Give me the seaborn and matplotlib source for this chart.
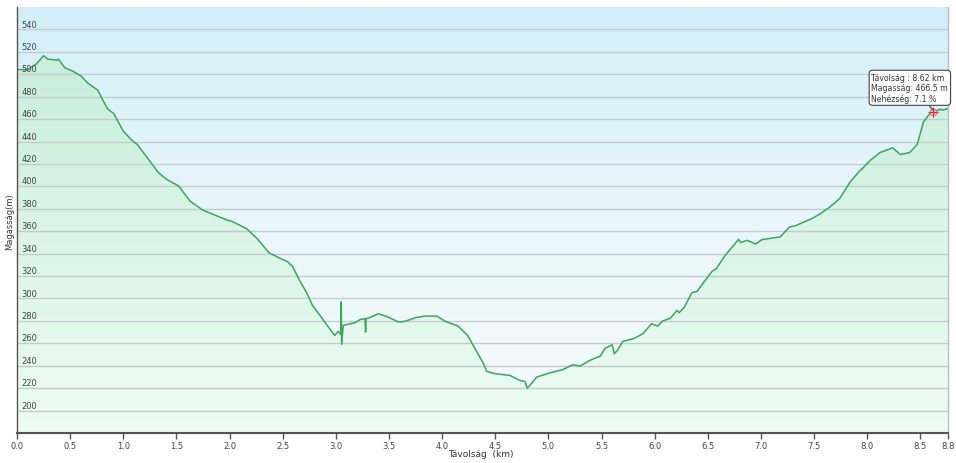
import numpy as np
import pandas as pd
import matplotlib
matplotlib.use("Agg")
import matplotlib.pyplot as plt
import seaborn as sns
from matplotlib.colors import LinearSegmentedColormap

# ---------------- data ----------------
distance_km = [0.00, 0.10, 0.18, 0.25, 0.29, 0.38, 0.39, 0.45, 0.52, 0.60, 0.67, 0.76,
               0.80, 0.85, 0.88, 0.91, 1.00, 1.08, 1.13, 1.22, 1.33, 1.41, 1.52, 1.63,
               1.75, 1.88, 1.98, 2.02, 2.16, 2.26, 2.37, 2.46, 2.54, 2.59, 2.65, 2.73,
               2.78, 2.85, 2.93, 2.99, 3.02, 3.045, 3.05, 3.055, 3.07, 3.18, 3.23, 3.275,
               3.28, 3.285, 3.31, 3.40, 3.49, 3.59, 3.65, 3.75, 3.84, 3.95, 4.03, 4.15,
               4.24, 4.31, 4.39, 4.42, 4.50, 4.64, 4.73, 4.78, 4.80, 4.83, 4.89, 5.02,
               5.14, 5.23, 5.30, 5.39, 5.49, 5.53, 5.60, 5.62, 5.65, 5.70, 5.80, 5.89,
               5.97, 6.03, 6.07, 6.15, 6.21, 6.23, 6.28, 6.35, 6.40, 6.44, 6.54, 6.58,
               6.66, 6.79, 6.81, 6.87, 6.95, 7.01, 7.18, 7.27, 7.32, 7.48, 7.56, 7.65,
               7.74, 7.84, 7.92, 7.96, 8.03, 8.12, 8.24, 8.31, 8.40, 8.47, 8.53, 8.59,
               8.62, 8.69, 8.71, 8.76]
elevation_m = [504.3, 504.0, 509.0, 516.5, 513.5, 512.6, 513.5, 505.8, 503.0, 498.6, 491.8, 485.8,
               478.4, 469.5, 467.0, 465.0, 449.2, 441.2, 437.5, 426.3, 412.3, 406.1, 400.4, 386.7,
               378.7, 373.7, 369.8, 368.9, 362.3, 353.4, 340.9, 336.5, 333.1, 329.0, 317.7, 304.3,
               293.8, 285.0, 274.5, 267.0, 270.6, 268.0, 297.0, 259.0, 276.0, 278.4, 281.3, 282.0,
               270.0, 282.0, 282.6, 286.4, 283.5, 279.0, 279.6, 282.9, 284.3, 284.3, 279.6, 275.4,
               267.0, 255.2, 241.8, 234.9, 232.9, 231.3, 226.9, 226.0, 220.0, 223.0, 229.9, 233.8,
               236.7, 240.9, 239.7, 244.8, 248.7, 255.2, 258.8, 250.7, 253.7, 261.7, 264.1, 268.6,
               277.5, 275.4, 279.6, 282.6, 289.4, 287.3, 292.4, 305.2, 306.4, 311.7, 324.2, 326.6,
               338.0, 352.8, 349.8, 351.9, 348.6, 352.5, 354.9, 363.8, 364.7, 371.3, 375.7, 381.7,
               389.1, 404.0, 412.9, 416.5, 423.3, 430.2, 434.4, 428.4, 430.2, 437.3, 457.6, 465.0,
               466.5, 468.8, 468.0, 469.5]

x_ticks = [0.0, 0.5, 1.0, 1.5, 2.0, 2.5, 3.0, 3.5, 4.0, 4.5, 5.0, 5.5, 6.0, 6.5, 7.0, 7.5, 8.0, 8.5, 8.76]
x_tick_labels = ["0.0", "0.5", "1.0", "1.5", "2.0", "2.5", "3.0", "3.5", "4.0", "4.5",
                 "5.0", "5.5", "6.0", "6.5", "7.0", "7.5", "8.0", "8.5", "8.8"]
y_ticks = [200, 220, 240, 260, 280, 300, 320, 340, 360, 380, 400, 420, 440, 460, 480, 500, 520, 540]
marker_km = 8.62
marker_m = 466.5
tooltip_lines = ["Távolság : 8.62 km", "Magasság: 466.5 m", "Nehézség: 7.1 %"]
x_label = "Távolság  (km)"
y_label = "Magasság(m)"

df = pd.DataFrame({"km": distance_km, "m": elevation_m})

# ---------------- style ----------------
sns.set_style("white")
plt.rcParams["font.family"] = ["DejaVu Sans"]

fig = plt.figure(figsize=(9.56, 4.64), dpi=100)
fig.patch.set_facecolor("white")
ax = fig.add_axes([17 / 956, 30 / 464, 931 / 956, 426 / 464])
xmin, xmax, ymin, ymax = 0.0, 8.76, 180, 560
ax.set_xlim(xmin, xmax)
ax.set_ylim(ymin, ymax)

# background gradient (light blue top -> near white bottom)
bg_cmap = LinearSegmentedColormap.from_list("bg", ["#f6fbfd", "#e9f6fb", "#d2eff9"])
grad = np.linspace(0, 1, 256).reshape(-1, 1)
ax.imshow(grad, extent=[xmin, xmax, ymin, ymax], origin="lower", aspect="auto",
          cmap=bg_cmap, zorder=0)

# gradient fill under the profile
fill_cmap = LinearSegmentedColormap.from_list("fill", ["#eefcf3", "#dcf5e8", "#c9eedb"])
poly = ax.fill_between(df["km"], df["m"], ymin, color="none", lw=0)
fill_img = ax.imshow(grad, extent=[xmin, xmax, ymin, 520], origin="lower", aspect="auto",
                     cmap=fill_cmap, zorder=1)
path = poly.get_paths()[0]
fill_img.set_clip_path(path, transform=ax.transData)

# horizontal grid lines
for yv in y_ticks:
    ax.axhline(yv, color="#c3cbcf", lw=1.0, zorder=2)

# profile line
sns.lineplot(data=df, x="km", y="m", ax=ax, color="#36a85a", lw=1.1, zorder=4,
             estimator=None, sort=False)

ax.set_xlim(xmin, xmax)
ax.set_ylim(ymin, ymax)

# y tick labels inside the plot
ax.set_yticks([])
for yv in y_ticks:
    ax.text(0.005, yv + 0.8, str(yv), transform=ax.get_yaxis_transform(),
            ha="left", va="bottom", fontsize=6, color="#444444", zorder=5)

ax.set_xticks(x_ticks)
ax.set_xticklabels(x_tick_labels)
ax.tick_params(axis="x", direction="out", length=4, width=1, color="#555555",
               labelsize=6, labelcolor="#444444", pad=2, bottom=True)
ax.set_xlabel("")
ax.set_ylabel("")
fig.text(481 / 956, 1 - 455 / 464, x_label, ha="center", va="center",
         fontsize=6.5, color="#333333")
fig.text(10 / 956, 1 - 222 / 464, y_label, rotation=90, ha="center", va="center",
         fontsize=6, color="#333333")

ax.spines["top"].set_visible(False)
ax.spines["left"].set_color("#555555")
ax.spines["left"].set_linewidth(1.0)
ax.spines["bottom"].set_color("#555555")
ax.spines["bottom"].set_linewidth(1.5)
ax.spines["right"].set_color("#b8bec2")
ax.spines["right"].set_linewidth(1.0)
for s in ax.spines.values():
    s.set_zorder(6)

# marker + tooltip
ax.plot([marker_km], [marker_m], marker="o", ms=5, mfc="#f4b6b6", mec="#e06060", mew=0.6, zorder=7)
ax.plot([marker_km], [marker_m], marker="+", ms=7, color="#e03030", mew=0.8, zorder=8)
ax.annotate("\n".join(tooltip_lines), xy=(marker_km, marker_m + 1.5),
            xytext=(8.04, 501.5), textcoords="data", ha="left", va="top",
            fontsize=5.6, color="#333333", linespacing=1.2, zorder=9,
            bbox=dict(boxstyle="round,pad=0.3,rounding_size=0.45", fc="white", ec="#444444", lw=0.8),
            arrowprops=dict(arrowstyle="-", color="#444444", lw=0.8, relpos=(0.72, 0.0),
                            shrinkA=0, shrinkB=0))

fig.savefig("out.png", dpi=100)
